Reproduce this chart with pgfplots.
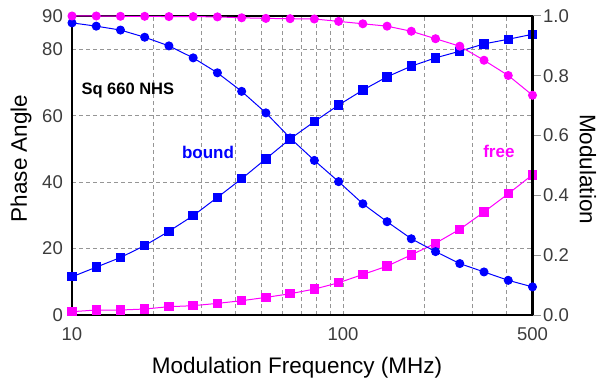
\documentclass[border=0pt]{standalone}
\usepackage{pgfplots}
\pgfplotsset{compat=1.18}
\usepackage{pgfplotstable}
\usepackage{fontspec}
\setmainfont{Liberation Sans}
\definecolor{cblue}{RGB}{0,0,255}
\definecolor{cmag}{RGB}{255,0,255}
\definecolor{cgrid}{RGB}{150,150,150}
\definecolor{ctick}{RGB}{60,60,60}

\pgfplotstableread{
f      bphase bmod   fphase fmod
10      11.5  0.977  1.0   1.000
12.286  14.4  0.966  1.5   1.000
15.095  17.3  0.953  1.5   0.999
18.546  20.9  0.929  1.8   0.999
22.786  25.2  0.900  2.5   0.998
27.995  29.9  0.860  2.8   0.998
34.395  35.4  0.810  3.5   0.997
42.258  41.0  0.748  4.3   0.994
51.918  47.0  0.676  5.3   0.992
63.788  53.0  0.592  6.4   0.991
78.371  58.2  0.517  7.8   0.990
96.287  63.2  0.446  9.7   0.982
118.30  67.7  0.372  12.2  0.974
145.35  71.7  0.312  14.7  0.966
178.58  74.9  0.255  18.1  0.949
219.40  77.4  0.212  21.6  0.924
269.56  79.4  0.172  25.8  0.899
331.18  81.6  0.144  31.0  0.852
406.89  83.0  0.116  36.5  0.801
500     84.5  0.094  42.2  0.735
}\data

\begin{document}
\begin{tikzpicture}
\path[use as bounding box] (-72pt,-68pt) rectangle (528pt,315pt);
\begin{axis}[
  at={(0,0)}, anchor=south west, scale only axis,
  width=460.5pt, height=299pt,
  xmode=log, xmin=10, xmax=500,
  clip=false,
  axis line style={line width=2.5pt, black},
  tick label style={font=\fontsize{18.5}{18.5}\selectfont, text=ctick},
  /pgf/number format/assume math mode=true,
  ymin=0, ymax=90,
  xtick={10,100,500}, xticklabels={10,100,500},
  minor xtick={20,30,40,50,60,70,80,90,200,300,400},
  ytick={0,20,40,60,80,90},
  yticklabels={0,20,40,60,80,90},
  xtick pos=bottom, ytick pos=left,
  major tick length=0pt, minor tick length=0pt,
  xmajorgrids, xminorgrids, ymajorgrids,
  major grid style={cgrid, line width=1pt, dash pattern=on 4pt off 3pt},
  minor grid style={cgrid, line width=1pt, dash pattern=on 4pt off 3pt},
  xticklabel style={anchor=center, inner sep=0pt, yshift=-19pt},
  yticklabel style={anchor=east, inner sep=0pt, xshift=-9pt},
  xlabel={Modulation Frequency (MHz)},
  ylabel={Phase Angle},
  every axis x label/.style={at={(axis description cs:0.4886,-0.175)}, anchor=center, font=\fontsize{22.5}{22.5}\selectfont},
  every axis y label/.style={at={(axis description cs:-0.1107,0.524)}, anchor=center, rotate=90, font=\fontsize{22.5}{22.5}\selectfont},
]
\addplot[cblue, line width=1pt, mark=square*, mark size=4.2pt, mark options={solid}] table[x=f, y=bphase] {\data};
\addplot[cmag, line width=1pt, mark=square*, mark size=4.2pt, mark options={solid}] table[x=f, y=fphase] {\data};
\node[anchor=west, font=\fontsize{16.5}{16.5}\selectfont\bfseries] at (axis description cs:0.013,0.750) {Sq 660 NHS};
\node[anchor=center, text=cblue, font=\fontsize{17}{17}\selectfont\bfseries] at (axis description cs:0.2953,0.544) {bound};
\node[anchor=center, text=cmag, font=\fontsize{17}{17}\selectfont\bfseries] at (axis description cs:0.927,0.546) {free};
\end{axis}
\begin{axis}[
  at={(0,0)}, anchor=south west, scale only axis,
  width=460.5pt, height=299pt,
  xmode=log, xmin=10, xmax=500,
  clip=false,
  axis line style={line width=2.5pt, black},
  tick label style={font=\fontsize{18.5}{18.5}\selectfont, text=ctick},
  /pgf/number format/assume math mode=true,
  ymin=0, ymax=1,
  hide x axis,
  axis y line*=right,
  ytick={0,0.2,0.4,0.6,0.8,1.0},
  yticklabels={0.0,0.2,0.4,0.6,0.8,1.0},
  tick align=outside, major tick length=8.5pt,
  major tick style={line width=1pt, cgrid},
  yticklabel style={anchor=west, inner sep=0pt, xshift=2pt},
  ylabel={Modulation},
  every axis y label/.style={at={(axis description cs:1.1205,0.488)}, anchor=center, rotate=-90, font=\fontsize{22.5}{22.5}\selectfont},
]
\addplot[cblue, line width=1pt, mark=*, mark size=4pt, mark options={solid}] table[x=f, y=bmod] {\data};
\addplot[cmag, line width=1pt, mark=*, mark size=4pt, mark options={solid}] table[x=f, y=fmod] {\data};
\end{axis}
\end{tikzpicture}
\end{document}
